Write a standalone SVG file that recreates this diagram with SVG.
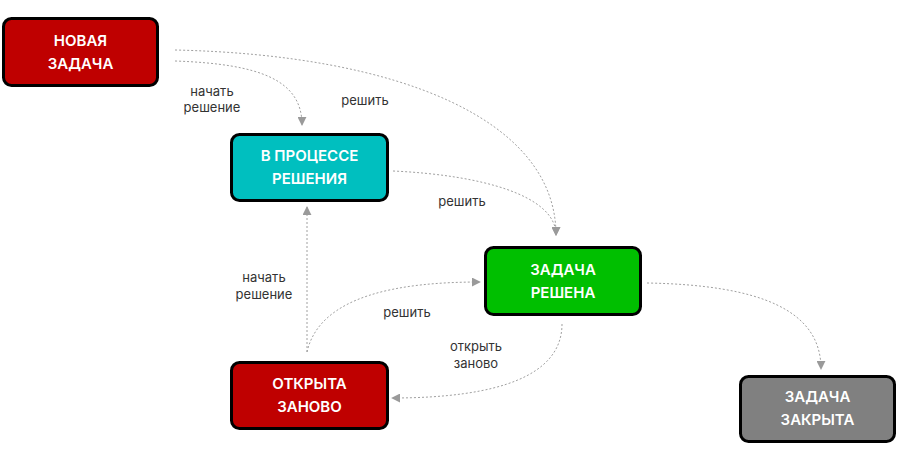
<svg xmlns="http://www.w3.org/2000/svg" width="899" height="463" viewBox="0 0 899 463">
<defs>
<marker id="arr" viewBox="0 0 10 10" refX="9" refY="5" markerWidth="9" markerHeight="9" markerUnits="userSpaceOnUse" orient="auto">
<path d="M0,0 L10,5 L0,10 z" fill="#9a9a9a"/>
</marker>
</defs>
<style>
.node rect{stroke:#000;stroke-width:3}
.nt{font-family:Inter,Roboto,"Liberation Sans",sans-serif;font-size:15px;font-weight:600;fill:#fff;text-anchor:middle}
.edge{fill:none;stroke:#a0a0a0;stroke-width:1;stroke-dasharray:2,2;marker-end:url(#arr)}
.el{font-family:Inter,Roboto,"Liberation Sans",sans-serif;font-size:13px;fill:#333;text-anchor:middle}
</style>
<rect width="899" height="463" fill="#fff"/>
<g id="connectors">
<path class="edge" d="M175,61 C260,64 302,80 302,125"/>
<path class="edge" d="M175,50 C400,55 556,120 556,235"/>
<path class="edge" d="M393,171 C480,175 556,195 556,235"/>
<path class="edge" d="M307,352 L307,207"/>
<path class="edge" d="M307,352 C320,295 400,282 480,282"/>
<path class="edge" d="M562,324 C562,375 500,398 392,398"/>
<path class="edge" d="M647,283 C760,285 821,310 821,369"/>
<text class="el" x="212" y="96">начать</text>
<text class="el" x="212" y="112">решение</text>
<text class="el" x="365" y="105">решить</text>
<text class="el" x="462" y="206">решить</text>
<text class="el" x="264" y="282">начать</text>
<text class="el" x="264" y="299">решение</text>
<text class="el" x="407" y="317">решить</text>
<text class="el" x="476" y="351">открыть</text>
<text class="el" x="476" y="368">заново</text>
</g>
<g id="n1" class="node">
<rect x="3.5" y="18.5" width="154" height="67" rx="8" fill="#bf0000"/>
<text class="nt" x="80.5" y="46">НОВАЯ</text>
<text class="nt" x="80.5" y="69">ЗАДАЧА</text>
</g>
<g id="n2" class="node">
<rect x="231.5" y="134.5" width="156" height="66" rx="8" fill="#00bfbf"/>
<text class="nt" x="309.5" y="161">В ПРОЦЕССЕ</text>
<text class="nt" x="309.5" y="184">РЕШЕНИЯ</text>
</g>
<g id="n3" class="node">
<rect x="485.5" y="247.5" width="155" height="67" rx="8" fill="#00bf00"/>
<text class="nt" x="563" y="275">ЗАДАЧА</text>
<text class="nt" x="563" y="298">РЕШЕНА</text>
</g>
<g id="n4" class="node">
<rect x="231.5" y="362.5" width="156" height="66" rx="8" fill="#bf0000"/>
<text class="nt" x="309.5" y="389">ОТКРЫТА</text>
<text class="nt" x="309.5" y="412">ЗАНОВО</text>
</g>
<g id="n5" class="node">
<rect x="740.5" y="376.5" width="154" height="65" rx="8" fill="#808080"/>
<text class="nt" x="817.5" y="402">ЗАДАЧА</text>
<text class="nt" x="817.5" y="425">ЗАКРЫТА</text>
</g>
</svg>
